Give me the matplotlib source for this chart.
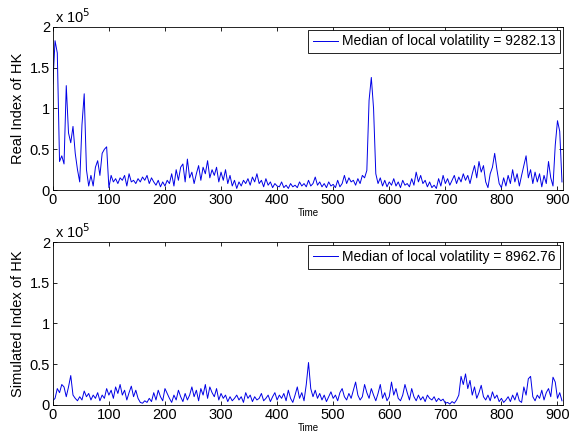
import numpy as np
import matplotlib.pyplot as plt

plt.rcParams["font.family"] = ["Liberation Sans", "DejaVu Sans"]

STEP = 4  # time units between samples

# real index of HK, in thousands
REAL_K = [
    130, 183, 168, 35, 42, 32, 128, 70, 58, 78,
    45, 25, 10, 80, 118, 25, 5, 18, 5, 28,
    36, 18, 45, 50, 53, 3, 18, 10, 14, 8,
    15, 12, 18, 5, 20, 10, 12, 8, 14, 10,
    16, 12, 18, 8, 15, 10, 6, 12, 4, 10,
    5, 12, 8, 20, 5, 25, 12, 28, 32, 10,
    38, 15, 22, 8, 20, 30, 12, 28, 20, 36,
    15, 25, 18, 28, 10, 22, 12, 25, 8, 18,
    5, 12, 2, 10, 5, 12, 8, 14, 6, 16,
    10, 20, 8, 12, 4, 14, 6, 10, 3, 8,
    5, 4, 10, 3, 6, 2, 8, 4, 6, 3,
    10, 5, 8, 4, 12, 5, 8, 16, 6, 10,
    4, 8, 3, 10, 5, 7, 3, 12, 4, 8,
    18, 8, 15, 10, 12, 6, 14, 8, 18, 15,
    24, 110, 138, 100, 20, 8, 15, 5, 12, 4,
    10, 6, 14, 5, 10, 3, 12, 6, 8, 4,
    14, 6, 22, 10, 18, 8, 12, 4, 10, 3,
    6, 2, 14, 5, 18, 8, 14, 6, 12, 18,
    8, 16, 10, 20, 12, 18, 8, 20, 30, 15,
    35, 22, 30, 10, 3, 20, 28, 45, 25, 8,
    3, 15, 5, 18, 8, 25, 10, 20, 5, 18,
    30, 42, 15, 25, 8, 22, 10, 20, 4, 18,
    8, 35, 15, 5, 55, 85, 72, 10,
]

# simulated index of HK, in thousands
SIM_K = [
    5, 8, 20, 15, 25, 22, 10, 22, 36, 12,
    8, 5, 10, 6, 17, 10, 14, 6, 12, 8,
    15, 5, 12, 8, 20, 12, 18, 8, 22, 14,
    25, 12, 18, 6, 15, 23, 10, 18, 8, 3,
    2, 5, 3, 8, 4, 15, 6, 18, 10, 5,
    20, 14, 8, 3, 12, 6, 18, 10, 4, 14,
    6, 12, 22, 10, 18, 5, 20, 12, 25, 8,
    22, 15, 10, 20, 6, 14, 8, 12, 4, 10,
    5, 8, 12, 6, 10, 3, 15, 8, 12, 4,
    10, 6, 8, 14, 5, 8, 12, 4, 10, 15,
    6, 12, 8, 14, 5, 18, 8, 3, 12, 22,
    8, 15, 5, 25, 52, 20, 10, 18, 8, 14,
    6, 12, 4, 10, 16, 8, 12, 5, 15, 20,
    10, 6, 14, 8, 18, 28, 12, 6, 10, 25,
    15, 8, 20, 12, 5, 14, 25, 8, 15, 5,
    10, 28, 12, 20, 8, 5, 12, 25, 15, 6,
    20, 10, 5, 12, 6, 10, 4, 12, 8, 6,
    10, 4, 8, 5, 7, 2, 3, 1, 4, 2,
    6, 12, 35, 25, 38, 20, 30, 12, 22, 8,
    15, 24, 10, 6, 12, 5, 16, 8, 12, 4,
    8, 3, 6, 10, 4, 12, 6, 15, 5, 3,
    22, 12, 32, 35, 10, 5, 12, 8, 18, 6,
    15, 20, 10, 34, 28, 8, 15, 5,
]

PANELS = [
    ("Real Index of HK", REAL_K, "Median of local volatility = 9282.13"),
    ("Simulated Index of HK", SIM_K, "Median of local volatility = 8962.76"),
]
YTICKS = [0, 0.5e5, 1e5, 1.5e5, 2e5]
YTICK_LABELS = ["0", "0.5", "1", "1.5", "2"]
XTICKS = [0, 100, 200, 300, 400, 500, 600, 700, 800, 900]

fig = plt.figure(figsize=(5.74, 4.33), dpi=100)
boxes = [[0.092, 0.561, 0.889, 0.377], [0.092, 0.065, 0.889, 0.376]]

for box, (ylabel, vals_k, legend_text) in zip(boxes, PANELS):
    ax = fig.add_axes(box)
    vals = np.array(vals_k) * 1000.0
    t = np.arange(len(vals)) * STEP
    ax.plot(t, vals, color="#0000e6", linewidth=0.7, label=legend_text)
    ax.set_xlim(0, 910)
    ax.set_ylim(0, 2e5)
    ax.set_xticks(XTICKS)
    ax.set_yticks(YTICKS)
    ax.set_yticklabels(YTICK_LABELS)
    ax.tick_params(direction="in", top=True, right=True, labelsize=10.5,
                   length=3, width=0.6, pad=2)
    for s in ax.spines.values():
        s.set_linewidth(0.6)
    ax.set_ylabel(ylabel, fontsize=10.5, labelpad=3)
    ax.set_xlabel("Time", fontsize=7, labelpad=1)
    ax.text(0.005, 1.005, r"x 10$^{5}$", transform=ax.transAxes,
            fontsize=10.5, va="bottom", ha="left")
    leg = ax.legend(loc="upper right", fontsize=10, fancybox=False,
                    framealpha=1, edgecolor="black", borderpad=0.35,
                    handlelength=1.8, handletextpad=0.3,
                    borderaxespad=0.2)
    leg.get_frame().set_linewidth(0.6)

fig.savefig("out.png", dpi=100)
